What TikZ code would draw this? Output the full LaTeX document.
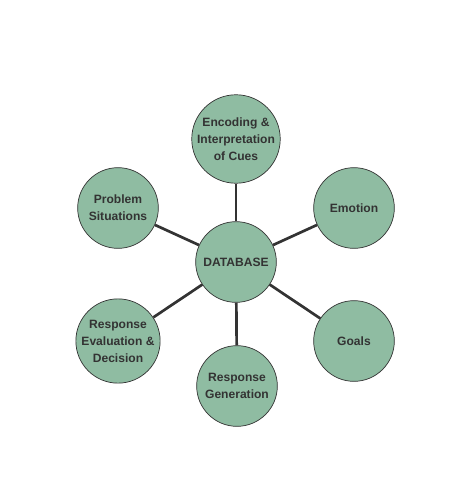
\documentclass[tikz,border=0pt]{standalone}
\usepackage{fontspec}
\setmainfont{Liberation Sans}
\usepackage{tikz}
\usetikzlibrary{positioning}

\definecolor{bubblefill}{RGB}{143,188,162}
\definecolor{inkgray}{RGB}{51,51,51}

\begin{document}
\begin{tikzpicture}[
    x=0.03cm, y=-0.03cm,
    bubble/.style={circle, draw=inkgray, line width=0.6pt, fill=bubblefill, minimum size=2.42cm, inner sep=0pt,
      align=center, text=inkgray, font=\fontsize{10.3}{14.5}\selectfont\bfseries},
    spoke/.style={draw=inkgray, line width=2.3pt}
  ]
    \useasboundingbox (0,0) rectangle (475,500);

    \node[bubble] (db) at (236,262) {DATABASE};
    \node[bubble] (cues) at (236,139) {Encoding \&\\Interpretation\\of Cues};
    \node[bubble] (emotion) at (354,208) {Emotion};
    \node[bubble] (goals) at (354,341) {Goals};
    \node[bubble] (gen) at (237,386) {Response\\Generation};
    \node[bubble] (eval) at (118,341) {Response\\Evaluation \&\\Decision};
    \node[bubble] (problem) at (118,208) {Problem\\Situations};

    % spokes from the database
    \foreach \n in {cues, emotion, goals, gen, eval, problem}
      \draw[spoke] (db) -- (\n);
  \end{tikzpicture}
\end{document}
